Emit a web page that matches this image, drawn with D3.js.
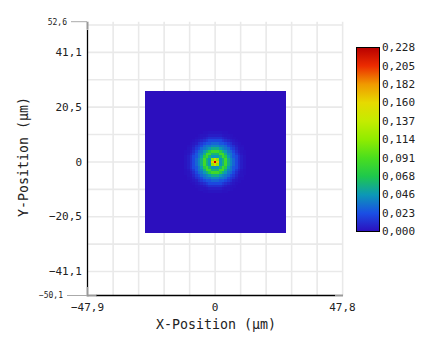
<!DOCTYPE html>
<html>
<head>
<meta charset="utf-8">
<script src="https://cdn.jsdelivr.net/npm/d3@7"></script>
<style>
  html, body { margin: 0; padding: 0; background: #fff; }
  svg { display: block; }
  text { font-family: "DejaVu Sans Mono", monospace; fill: #222; }
</style>
</head>
<body>
<svg id="chart" width="436" height="345"></svg>
<script>
// Axis extents (µm)
const xDomain = [-47.9, 47.8];
const yDomain = [-50.1, 52.6];

// Labelled ticks
const xTicks = [-47.9, 0, 47.8];
const yTicks = [41.1, 20.5, 0, -20.5, -41.1];
const yEndTicks = [52.6, -50.1];

// Grid spacing (µm)
const xGridStep = 9.57;
const yGridStep = 10.275;

// Intensity scale labels
const colorTicks = [0.000, 0.023, 0.046, 0.068, 0.091, 0.114, 0.137, 0.160, 0.182, 0.205, 0.228];

// Intensity map: 53 x 53 cells of 1 µm, centred on the origin.
// The spot is rotationally symmetric, so it is stored as a radial profile
// sampled every 0.5 µm from the centre outwards.
const mapCells = 53;
const cellSize = 1;
const radialProfile = [
  0.228, 0.200, 0.165, 0.115, 0.045, 0.035, 0.060, 0.085,
  0.086, 0.072, 0.056, 0.046, 0.040, 0.035, 0.030, 0.025,
  0.020, 0.015, 0.011, 0.008, 0.005, 0.003, 0.002, 0.001
];

// Colour stops of the intensity scale (low -> high)
const colorStops = [
  "#2c0fbe", "#1a4fe4", "#0c98b6", "#1ec84c", "#4ade1e", "#90ec00",
  "#c4ec00", "#e6da00", "#f09a00", "#ec2c00", "#b80000"
];

const svg = d3.select("#chart");

const x = d3.scaleLinear().domain(xDomain).range([87.5, 342.5]);
const y = d3.scaleLinear().domain(yDomain).range([295.5, 21.7]);

const vmax = colorTicks[colorTicks.length - 1];
const color = d3.scaleLinear()
  .domain(colorStops.map((_, i) => vmax * i / (colorStops.length - 1)))
  .range(colorStops)
  .clamp(true);

const fmt = d3.formatLocale({ decimal: ",", thousands: ".", grouping: [3], currency: ["", ""] });
const f1 = v => v === 0 ? "0" : fmt.format(".1f")(v);
const f3 = fmt.format(".3f");

// Grid
const xGrid = d3.range(-5, 6).map(k => k * xGridStep).filter(v => v > xDomain[0] + 0.5);
const yGrid = d3.range(-5, 6).map(k => k * yGridStep).filter(v => v > yDomain[0] && v < yDomain[1]);
const grid = svg.append("g").attr("stroke", "#e9e9e9").attr("stroke-width", 1.6);
grid.selectAll("line.v").data(xGrid).join("line")
  .attr("x1", d => x(d)).attr("x2", d => x(d))
  .attr("y1", y(yDomain[1])).attr("y2", y(yDomain[0]));
grid.selectAll("line.h").data(yGrid).join("line")
  .attr("y1", d => y(d)).attr("y2", d => y(d))
  .attr("x1", x(xDomain[0])).attr("x2", x(xDomain[1]));

// Heat map cells
const half = (mapCells - 1) / 2;
const cells = [];
for (let i = 0; i < mapCells; i++) {
  for (let j = 0; j < mapCells; j++) {
    const cx = (i - half) * cellSize, cy = (half - j) * cellSize;
    const idx = Math.round(Math.hypot(cx, cy) * 2);
    const v = idx < radialProfile.length ? radialProfile[idx] : 0;
    cells.push({ cx, cy, v });
  }
}
const cw = x(cellSize) - x(0);
const ch = y(0) - y(cellSize);
const heat = svg.append("g").attr("shape-rendering", "crispEdges");
// backing square in the base colour so no seams show between cells
heat.append("rect")
  .attr("x", x(-half - 0.5)).attr("y", y(half + 0.5))
  .attr("width", cw * mapCells).attr("height", ch * mapCells)
  .attr("fill", color(0));
heat.selectAll("rect.c").data(cells.filter(d => d.v > 0)).join("rect")
  .attr("class", "c")
  .attr("x", d => x(d.cx - cellSize / 2))
  .attr("y", d => y(d.cy + cellSize / 2))
  .attr("width", cw + 0.6)
  .attr("height", ch + 0.6)
  .attr("fill", d => color(d.v));

// Axes lines
const axes = svg.append("g");
axes.append("line").attr("x1", 87.5).attr("x2", 87.5).attr("y1", 30).attr("y2", 287)
  .attr("stroke", "#000").attr("stroke-width", 1.3);
axes.append("line").attr("y1", 295.5).attr("y2", 295.5).attr("x1", 96).attr("x2", 335)
  .attr("stroke", "#000").attr("stroke-width", 1.3);
// grey end caps
const cap = "#999";
axes.append("rect").attr("x", 86.5).attr("y", y(yDomain[1])).attr("width", 2).attr("height", 8).attr("fill", cap);
axes.append("rect").attr("x", 86.5).attr("y", 287).attr("width", 2).attr("height", 9.5).attr("fill", cap);
axes.append("rect").attr("x", 87.5).attr("y", 294.5).attr("width", 9).attr("height", 2).attr("fill", cap);
axes.append("rect").attr("x", 335).attr("y", 294.5).attr("width", 8).attr("height", 2).attr("fill", cap);

// Y tick labels
svg.append("g").selectAll("text").data(yTicks).join("text")
  .attr("x", 82).attr("y", d => y(d)).attr("dy", "0.35em")
  .attr("text-anchor", "end").attr("font-size", 11)
  .text(d => f1(d));

// Y end labels with leader lines
const yEnds = svg.append("g");
yEnds.selectAll("line").data(yEndTicks).join("line")
  .attr("x1", (d, i) => i === 0 ? 71 : 67).attr("x2", 87)
  .attr("y1", d => y(d)).attr("y2", d => y(d))
  .attr("stroke", "#aaa").attr("stroke-width", 1);
yEnds.selectAll("text").data(yEndTicks).join("text")
  .attr("x", (d, i) => i === 0 ? 67 : 63).attr("y", d => y(d)).attr("dy", "0.35em")
  .attr("text-anchor", "end").attr("font-size", 8)
  .text(d => f1(d));

// X tick labels
svg.append("g").selectAll("text").data(xTicks).join("text")
  .attr("x", d => x(d)).attr("y", 310.5)
  .attr("text-anchor", "middle").attr("font-size", 11)
  .text(d => f1(d));

// Axis titles
svg.append("text").attr("x", 216).attr("y", 328.5)
  .attr("text-anchor", "middle").attr("font-size", 13.3)
  .text("X-Position (µm)");
svg.append("text").attr("transform", "translate(27.5,157) rotate(-90)")
  .attr("text-anchor", "middle").attr("font-size", 13.3)
  .text("Y-Position (µm)");

// Colour bar
const cb = d3.scaleLinear().domain([0, vmax]).range([231.5, 47.5]);
const defs = svg.append("defs");
const grad = defs.append("linearGradient").attr("id", "cbar")
  .attr("x1", 0).attr("x2", 0).attr("y1", 1).attr("y2", 0);
grad.selectAll("stop").data(colorStops).join("stop")
  .attr("offset", (d, i) => i / (colorStops.length - 1))
  .attr("stop-color", d => d);
svg.append("rect").attr("x", 356.5).attr("y", cb(vmax)).attr("width", 23)
  .attr("height", cb(0) - cb(vmax))
  .attr("fill", "url(#cbar)").attr("stroke", "#000").attr("stroke-width", 1);
svg.append("g").selectAll("text").data(colorTicks).join("text")
  .attr("x", 382).attr("y", d => cb(d)).attr("dy", "0.35em")
  .attr("font-size", 11)
  .text(d => f3(d));
</script>
</body>
</html>
